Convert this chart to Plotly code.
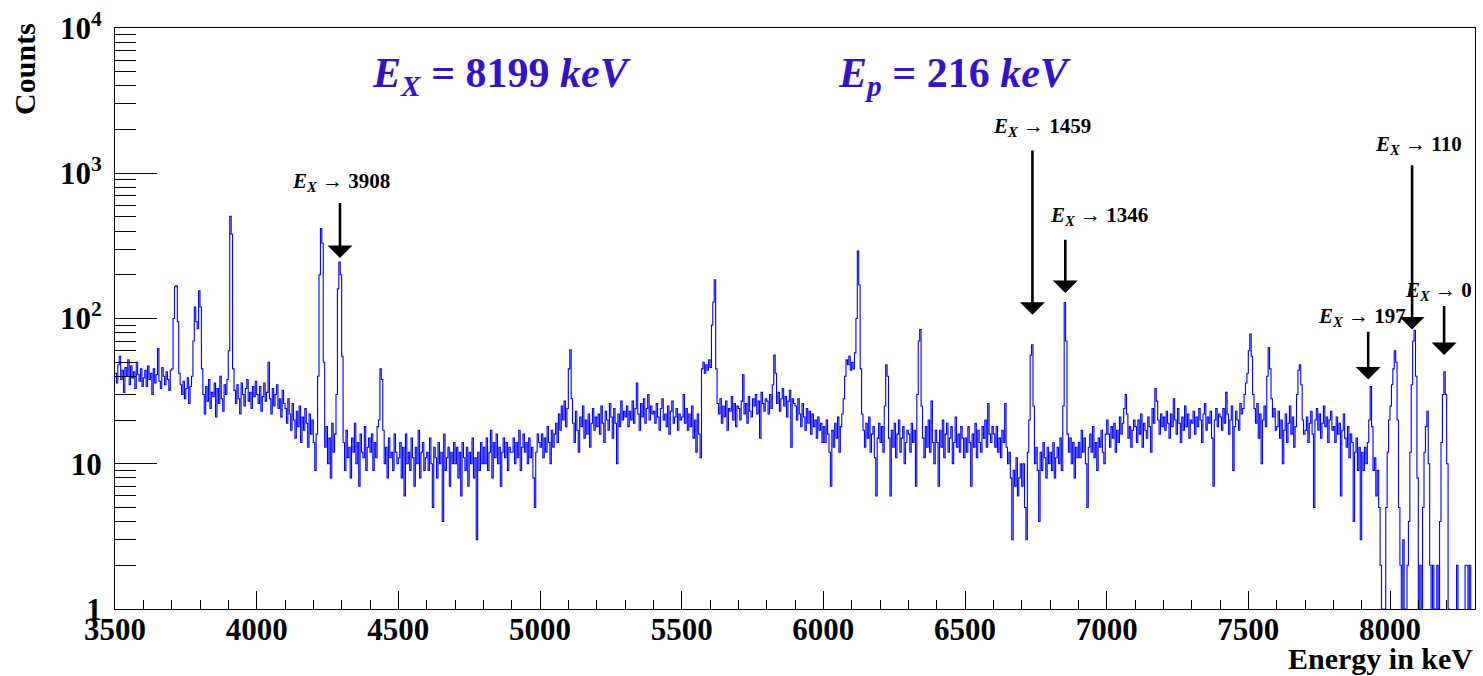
import math
import numpy as np
import plotly.graph_objects as go

# ---------------- data (5 keV bins, counts) ----------------
E_MIN = 3500
BIN_W = 5

counts_3500_4000 = [
    42, 36, 48, 55, 38, 44, 31, 46, 40, 52, 35, 47, 39, 43, 33, 50, 41, 37, 45, 34,
    39, 44, 34, 47, 38, 42, 30, 45, 36, 41, 62, 37, 33, 46, 40, 35, 43, 38, 32, 44,
    45, 100, 165, 168, 95, 42, 35, 30, 37, 28, 33, 39, 26, 34, 40, 70, 120, 95, 85, 155,
    120, 45, 30, 22, 34, 27, 38, 24, 31, 29, 36, 21, 33, 26, 40, 28, 23, 35, 30, 38,
    60, 505, 380, 45, 32, 26, 35, 28, 22, 36, 30, 25, 33, 38, 27, 31, 24, 34, 29, 37,
]
counts_4000_4500 = [
    30, 26, 34, 23, 29, 36, 27, 31, 50, 28, 22, 33, 25, 30, 35, 24, 28, 21, 32, 26,
    24, 19, 28, 22, 17, 26, 20, 15, 23, 18, 25, 14, 21, 17, 24, 19, 13, 22, 16, 20,
    14, 9, 16, 40, 200, 417, 330, 50, 13, 18, 10, 15, 8, 19, 12, 16, 30, 160, 245, 200,
    55, 14, 9, 17, 11, 13, 8, 15, 12, 19, 10, 14, 7, 16, 12, 11, 18, 9, 13, 15,
    12, 16, 9, 14, 11, 18, 20, 45, 38, 17, 10, 13, 8, 15, 11, 12, 9, 16, 12, 10,
]
counts_4500_5000 = [
    11, 14, 8, 13, 6, 16, 10, 12, 9, 15, 11, 7, 13, 10, 17, 8, 12, 14, 9, 11,
    12, 9, 15, 10, 5, 13, 11, 8, 14, 10, 12, 4, 16, 9, 11, 13, 7, 12, 10, 14,
    10, 13, 8, 12, 6, 14, 11, 9, 13, 7, 12, 10, 15, 8, 11, 3, 12, 9, 14, 10,
    13, 10, 15, 9, 12, 17, 8, 14, 11, 16, 10, 13, 7, 12, 15, 11, 14, 9, 13, 12,
    12, 15, 10, 14, 11, 17, 9, 13, 16, 12, 14, 10, 15, 11, 13, 8, 5, 12, 16, 14,
]
counts_5000_5500 = [
    13, 16, 11, 15, 12, 18, 14, 10, 17, 13, 16, 19, 14, 22, 17, 25, 20, 27, 18, 24,
    45, 61, 28, 19, 14, 23, 17, 12, 21, 18, 25, 15, 20, 16, 22, 13, 19, 24, 17, 21,
    18, 22, 16, 25, 19, 14, 23, 20, 17, 26, 21, 15, 24, 19, 10, 22, 18, 27, 20, 23,
    21, 25, 18, 23, 20, 27, 19, 24, 36, 22, 17, 26, 21, 28, 19, 24, 30, 20, 25, 22,
    23, 19, 26, 21, 17, 24, 28, 20, 22, 18, 25, 16, 23, 27, 19, 21, 24, 17, 22, 20,
]
counts_5500_6000 = [
    21, 30, 19, 24, 17, 22, 18, 25, 15, 20, 12, 22, 16, 11, 45, 50, 42, 48, 44, 52,
    46, 90, 130, 185, 45, 26, 22, 28, 19, 25, 21, 27, 17, 24, 23, 29, 20, 26, 18, 25,
    24, 20, 27, 41, 22, 26, 19, 29, 23, 21, 28, 25, 30, 22, 27, 15, 31, 26, 23, 28,
    27, 22, 30, 24, 35, 56, 42, 26, 31, 23, 28, 33, 25, 29, 21, 27, 32, 13, 28, 26,
    25, 20, 28, 22, 18, 26, 21, 17, 24, 19, 23, 16, 22, 18, 20, 15, 21, 17, 19, 14,
]
counts_6000_6500 = [
    18, 14, 20, 16, 12, 7, 17, 13, 19, 15, 21, 12, 18, 22, 28, 40, 52, 48, 55, 44,
    50, 45, 58, 100, 291, 170, 45, 22, 17, 13, 19, 15, 21, 12, 16, 18, 11, 6, 15, 19,
    14, 18, 12, 25, 48, 40, 15, 6, 17, 13, 19, 11, 16, 20, 12, 15, 18, 10, 14, 17,
    16, 12, 19, 14, 17, 7, 30, 70, 84, 25, 15, 11, 18, 13, 20, 12, 27, 14, 10, 17,
    14, 7, 17, 13, 20, 11, 16, 19, 12, 15, 18, 10, 14, 21, 13, 16, 12, 18, 15, 11,
]
counts_6500_7000 = [
    15, 12, 18, 14, 7, 16, 13, 19, 11, 17, 14, 12, 18, 15, 20, 13, 26, 16, 14, 18,
    16, 13, 18, 12, 15, 11, 17, 14, 26, 13, 10, 12, 8, 3, 9, 7, 11, 6, 8, 10,
    7, 10, 5, 3, 12, 20, 56, 66, 25, 10, 13, 9, 4, 12, 9, 14, 11, 8, 13, 10,
    12, 9, 14, 8, 11, 13, 10, 15, 9, 25, 129, 70, 16, 12, 15, 10, 14, 8, 13, 11,
    14, 11, 17, 12, 15, 10, 5, 13, 16, 12, 18, 11, 14, 9, 15, 13, 17, 12, 10, 16,
]
counts_7000_7500 = [
    20, 16, 13, 18, 15, 19, 12, 17, 14, 21, 16, 19, 24, 30, 22, 15, 18, 13, 17, 20,
    18, 14, 20, 16, 22, 13, 19, 17, 15, 21, 18, 12, 24, 19, 33, 27, 20, 16, 22, 18,
    21, 17, 23, 19, 15, 22, 18, 28, 20, 16, 24, 19, 14, 21, 17, 25, 18, 22, 15, 20,
    19, 23, 16, 21, 18, 24, 20, 14, 22, 26, 17, 21, 19, 23, 15, 7, 20, 24, 18, 22,
    21, 17, 24, 19, 31, 22, 16, 20, 25, 9, 18, 23, 20, 17, 26, 22, 24, 30, 36, 42,
]
counts_7500_8000 = [
    60, 78, 55, 30, 24, 19, 26, 15, 22, 10, 20, 25, 18, 40, 63, 45, 28, 21, 24, 17,
    18, 23, 15, 20, 10, 17, 22, 14, 19, 25, 16, 21, 13, 18, 30, 44, 48, 35, 20, 16,
    17, 21, 14, 19, 23, 16, 5, 20, 24, 17, 22, 15, 19, 25, 18, 21, 14, 20, 23, 17,
    18, 14, 21, 16, 19, 6, 17, 22, 15, 13, 18, 11, 16, 14, 4, 12, 15, 9, 13, 3,
    12, 9, 13, 10, 14, 20, 34, 18, 9, 11, 6, 9, 5, 2, 1, 0, 1, 5, 12, 20,
]
counts_8000_8300 = [
    25, 35, 45, 60, 50, 20, 5, 2, 0, 3, 1, 0, 2, 4, 12, 35, 70, 83, 40, 8,
    0, 2, 0, 5, 12, 18, 23, 10, 2, 0, 2, 1, 0, 2, 1, 4, 14, 30, 43, 30,
    10, 1, 0, 0, 0, 0, 0, 2, 0, 0, 0, 0, 0, 2, 2, 0, 2, 0, 0, 0,
]

x_tick_values = [3500, 4000, 4500, 5000, 5500, 6000, 6500, 7000, 7500, 8000]
y_tick_values = [1, 10, 100, 1000, 10000]
y_tick_labels = ["1", "10", "10<sup>2</sup>", "10<sup>3</sup>", "10<sup>4</sup>"]

# labelled transitions: (label, arrow x [keV], arrow tail counts, arrow tip counts, label x, label counts)
transitions = [
    ("3908", 4294, 638, 261, 4297, 875),
    ("1459", 6738, 1469, 106, 6773, 2075),
    ("1346", 6854, 357, 150, 6974, 505),
    ("110", 8078, 1161, 84, 8099, 1567),
    ("197", 7923, 83, 38, 7902, 102),
    ("0", 8191, 125, 56, 8298, 155),
]

# ---------------- figure ----------------
counts = np.array(counts_3500_4000 + counts_4000_4500 + counts_4500_5000 + counts_5000_5500
                  + counts_5500_6000 + counts_6000_6500 + counts_6500_7000 + counts_7000_7500
                  + counts_7500_8000 + counts_8000_8300, dtype=float)
edges = E_MIN + BIN_W * np.arange(len(counts) + 1)
# empty bins are drawn below the axis floor (as ROOT does on a log scale)
shown = np.where(counts > 0, counts, 0.3)
y_step = np.append(shown, shown[-1])

SERIF = "Liberation Serif"
fig = go.Figure()
fig.add_trace(go.Scatter(
    x=edges, y=y_step, mode="lines",
    line=dict(shape="hv", color="#0000ff", width=1.1),
    hoverinfo="skip", showlegend=False,
))

x_minor = [v for v in range(3500, 8301, 100) if v % 500 != 0]
y_minor = [m * 10 ** d for d in range(0, 4) for m in range(2, 10)]

fig.update_layout(
    width=1483, height=676,
    margin=dict(l=115, r=7, t=23, b=67),
    paper_bgcolor="white", plot_bgcolor="white",
    showlegend=False,
    xaxis=dict(
        range=[3500, 8300], tickvals=x_tick_values,
        ticks="inside", ticklen=18, tickwidth=1, tickcolor="black",
        minor=dict(tickvals=x_minor, ticks="inside", ticklen=9, tickwidth=1, tickcolor="black", showgrid=False),
        showline=True, linecolor="black", linewidth=1, mirror=True,
        showgrid=False, zeroline=False,
        tickfont=dict(family=SERIF, size=31, color="black", weight="bold"),
        ticklabelstandoff=-7,
    ),
    yaxis=dict(
        type="log", range=[0, 4],
        tickvals=y_tick_values, ticktext=y_tick_labels,
        ticks="inside", ticklen=42, tickwidth=1, tickcolor="black",
        minor=dict(tickvals=y_minor, ticks="inside", ticklen=21, tickwidth=1, tickcolor="black", showgrid=False),
        showline=True, linecolor="black", linewidth=1, mirror=True,
        showgrid=False, zeroline=False,
        tickfont=dict(family=SERIF, size=31, color="black", weight="bold"),
        ticklabelstandoff=6,
    ),
)

ann = []
# axis titles (ROOT style, right/top aligned)
ann.append(dict(text="<b>Counts</b>", xref="paper", yref="paper", x=-0.067, y=1.012,
                xanchor="center", yanchor="top", textangle=-90, showarrow=False,
                font=dict(family=SERIF, size=30, color="black")))
ann.append(dict(text="<b>Energy in keV</b>", xref="paper", yref="paper", x=1.0, y=-0.086,
                xanchor="right", yanchor="middle", showarrow=False,
                font=dict(family=SERIF, size=30, color="black")))
# headline texts
TITLE_COLOR = "#3412c8"
ann.append(dict(text="<b><i>E</i><sub><i>X</i></sub> = 8199 <i>keV</i></b>",
                x=4865, y=math.log10(4700), xref="x", yref="y", showarrow=False,
                font=dict(family=SERIF, size=42, color=TITLE_COLOR)))
ann.append(dict(text="<b><i>E</i><sub><i>p</i></sub> = 216 <i>keV</i></b>",
                x=6463, y=math.log10(4700), xref="x", yref="y", showarrow=False,
                font=dict(family=SERIF, size=42, color=TITLE_COLOR)))
for label, ax_e, tail_c, tip_c, lx, lc in transitions:
    ann.append(dict(text="", x=ax_e, y=math.log10(tip_c), xref="x", yref="y",
                    ax=ax_e, ay=math.log10(tail_c), axref="x", ayref="y",
                    showarrow=True, arrowhead=1, arrowsize=1.6, arrowwidth=2.6,
                    arrowcolor="black", standoff=0, startstandoff=0))
    ann.append(dict(text="<b><i>E</i><sub><i>X</i></sub> → " + label + "</b>",
                    x=lx, y=math.log10(lc), xref="x", yref="y", showarrow=False,
                    xanchor="right" if label == "0" else "center", yanchor="middle",
                    font=dict(family=SERIF, size=21, color="black")))
fig.update_layout(annotations=ann)

fig.write_html("out.html")
